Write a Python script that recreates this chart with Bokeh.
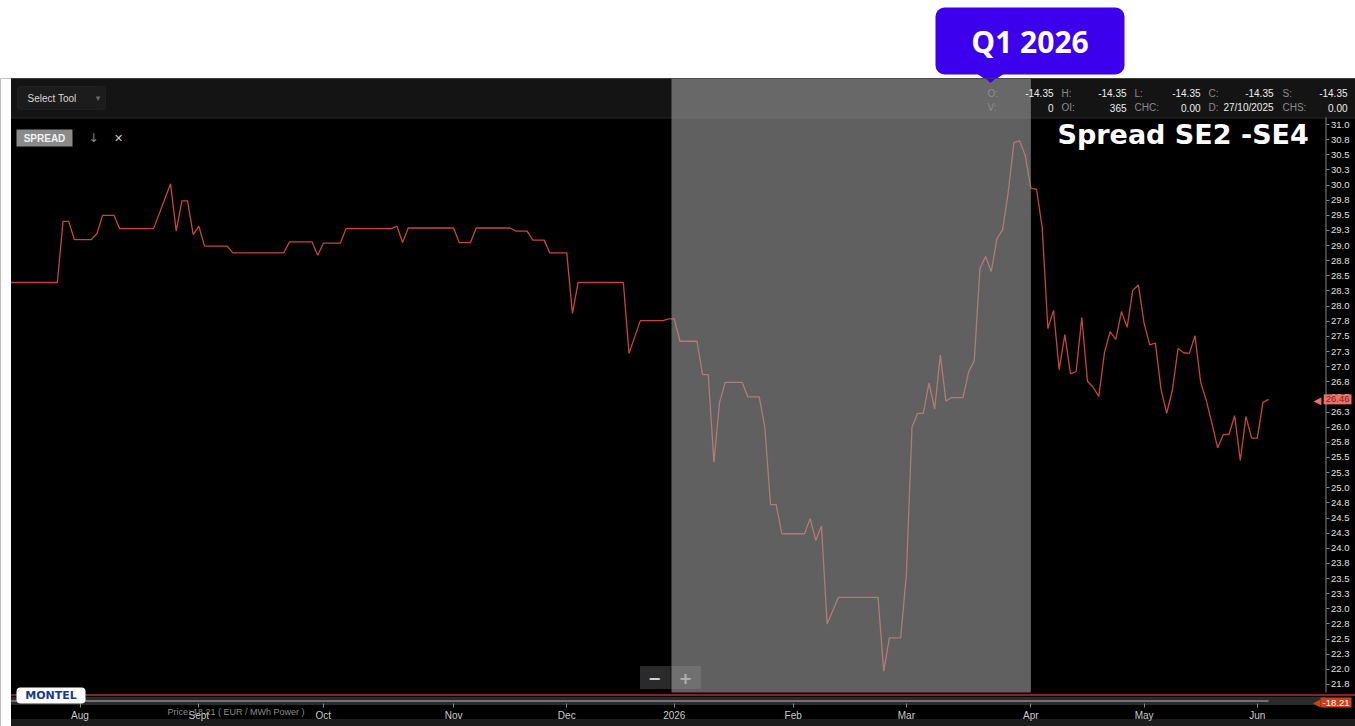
import numpy as np
import pandas as pd
from bokeh.plotting import figure
from bokeh.models import Range1d, FixedTicker, PrintfTickFormatter, Label, BoxAnnotation, ColumnDataSource
from bokeh.layouts import column
from bokeh.core.properties import value
from bokeh.embed import file_html
from bokeh.resources import INLINE

# ---------------- data ----------------
holidays = ["2025-12-24", "2025-12-25", "2025-12-26", "2025-12-31",
            "2026-01-01", "2026-04-03", "2026-04-06", "2026-05-01"]

dates = ["2025-07-15", "2025-07-28", "2025-07-29", "2025-07-30", "2025-07-31",
         "2025-08-05", "2025-08-06", "2025-08-07", "2025-08-11", "2025-08-12",
         "2025-08-20", "2025-08-25", "2025-08-26", "2025-08-27", "2025-08-28",
         "2025-08-29", "2025-09-01", "2025-09-02", "2025-09-08", "2025-09-09",
         "2025-09-22", "2025-09-23", "2025-09-29", "2025-09-30", "2025-10-01",
         "2025-10-06", "2025-10-07", "2025-10-17", "2025-10-20", "2025-10-21",
         "2025-10-22", "2025-11-03", "2025-11-04", "2025-11-06", "2025-11-07",
         "2025-11-17", "2025-11-18", "2025-11-20", "2025-11-21", "2025-11-25",
         "2025-11-26", "2025-12-01", "2025-12-02", "2025-12-03", "2025-12-15",
         "2025-12-16", "2025-12-18", "2025-12-29", "2025-12-30", "2026-01-02",
         "2026-01-05", "2026-01-08", "2026-01-09", "2026-01-12", "2026-01-13",
         "2026-01-14", "2026-01-15", "2026-01-20", "2026-01-21", "2026-01-23",
         "2026-01-26", "2026-01-27", "2026-01-28", "2026-01-29", "2026-02-04",
         "2026-02-05", "2026-02-06", "2026-02-09", "2026-02-10", "2026-02-12",
         "2026-02-23", "2026-02-24", "2026-02-25", "2026-02-27", "2026-03-02",
         "2026-03-03", "2026-03-04", "2026-03-05", "2026-03-06", "2026-03-09",
         "2026-03-10", "2026-03-11", "2026-03-12", "2026-03-16", "2026-03-17",
         "2026-03-18", "2026-03-19", "2026-03-20", "2026-03-23", "2026-03-24",
         "2026-03-25", "2026-03-26", "2026-03-27", "2026-03-30", "2026-03-31",
         "2026-04-01", "2026-04-02", "2026-04-07", "2026-04-08", "2026-04-09",
         "2026-04-10", "2026-04-13", "2026-04-14", "2026-04-15", "2026-04-16",
         "2026-04-17", "2026-04-20", "2026-04-21", "2026-04-22", "2026-04-23",
         "2026-04-24", "2026-04-27", "2026-04-28", "2026-04-29", "2026-04-30",
         "2026-05-04", "2026-05-05", "2026-05-06", "2026-05-07", "2026-05-08",
         "2026-05-11", "2026-05-12", "2026-05-13", "2026-05-14", "2026-05-15",
         "2026-05-18", "2026-05-19", "2026-05-20", "2026-05-21", "2026-05-22",
         "2026-05-25", "2026-05-26", "2026-05-27", "2026-05-28", "2026-05-29",
         "2026-06-01", "2026-06-02", "2026-06-03"]

spread = [28.39, 28.39, 29.40, 29.40, 29.10,
          29.10, 29.20, 29.50, 29.50, 29.28,
          29.28, 30.02, 29.24, 29.74, 29.74,
          29.18, 29.32, 28.99, 28.99, 28.88,
          28.88, 29.06, 29.06, 28.84, 29.04,
          29.04, 29.28, 29.28, 29.32, 29.05,
          29.29, 29.29, 29.05, 29.05, 29.29,
          29.29, 29.24, 29.24, 29.09, 29.09,
          28.88, 28.88, 27.88, 28.39, 28.39,
          27.22, 27.76, 27.76, 27.79, 27.79,
          27.42, 27.42, 26.87, 26.87, 25.42,
          26.41, 26.74, 26.74, 26.50, 26.50,
          26.00, 24.72, 24.72, 24.24, 24.24,
          24.49, 24.13, 24.37, 22.75, 23.19,
          23.19, 21.97, 22.52, 22.52, 23.56,
          26.00, 26.23, 26.23, 26.73, 26.30,
          27.19, 26.43, 26.49, 26.49, 26.91,
          27.10, 28.62, 28.82, 28.57, 29.11,
          29.26, 29.88, 30.70, 30.73, 30.49,
          29.95, 29.93, 29.30, 27.63, 27.93,
          26.95, 27.53, 26.88, 26.92, 27.81,
          26.76, 26.66, 26.51, 27.23, 27.58,
          27.45, 27.91, 27.65, 28.26, 28.35,
          27.72, 27.36, 27.39, 26.62, 26.23,
          26.61, 27.30, 27.23, 27.22, 27.51,
          26.74, 26.44, 26.06, 25.66, 25.88,
          25.88, 26.19, 25.45, 26.18, 25.82,
          25.82, 26.41, 26.46]

month_starts = ["2025-08-01", "2025-09-01", "2025-10-01", "2025-11-01", "2025-12-01",
                "2026-01-01", "2026-02-01", "2026-03-01", "2026-04-01", "2026-05-01",
                "2026-06-01"]
month_labels = ["Aug", "Sept", "Oct", "Nov", "Dec", "2026", "Feb", "Mar", "Apr", "May", "Jun"]

q1_start = "2026-01-01"
q1_end = "2026-04-01"
q1_label = "Q1 2026"
title_text = "Spread SE2 -SE4"

header_keys1 = ["O:", "H:", "L:", "C:", "S:"]
header_vals1 = ["-14.35", "-14.35", "-14.35", "-14.35", "-14.35"]
header_keys2 = ["V:", "OI:", "CHC:", "D:", "CHS:"]
header_vals2 = ["0", "365", "0.00", "27/10/2025", "0.00"]

last_value = 26.46
nav_value_text = "-18.21"
nav_caption = "Price: 18.21 ( EUR / MWh Power )"

# ---------------- trading-day calendar ----------------
cal = pd.bdate_range("2025-07-01", "2026-06-30", freq="C", holidays=holidays)
origin = int(cal.searchsorted(pd.Timestamp("2025-08-01")))


def tday(d):
    return int(cal.searchsorted(pd.Timestamp(d))) - origin


# page-pixel helpers for decorations (chart geometry)
A, B = 79.5, 5.66          # px of first Aug trading day, px per trading day
Y0, S = 124.0, 60.54        # px of 31.0, px per unit


def X(px):
    return (px - A) / B


def Y(py):
    return 31.0 - (py - Y0) / S


W, H = 1355, 726
TOP_H = 78
AXIS_X = 1325      # page x of the price axis
AXIS_Y = 704       # page y of the time axis

# ---------------- top strip (callout) ----------------
BLUE = "#3d00ec"
t = figure(width=W, height=TOP_H, x_range=Range1d(0, W), y_range=Range1d(0, TOP_H),
           toolbar_location=None, output_backend="svg", min_border=0,
           outline_line_color=None, background_fill_color="white", border_fill_color="white")
t.axis.visible = False
t.grid.visible = False
t.add_layout(BoxAnnotation(left=935, right=1124, top=TOP_H - 7, bottom=TOP_H - 74, fill_color=BLUE,
                           fill_alpha=1.0, line_color=None, border_radius=9))
t.patch([977, 1003, 990], [TOP_H - 73, TOP_H - 73, TOP_H - 82], color=BLUE)
t.add_layout(Label(x=1029.5, y=TOP_H - 41, text=q1_label, text_align="center", text_baseline="middle",
                   text_font="Open Sans", text_font_style="bold", text_font_size="30px",
                   text_color="white"))

# ---------------- main chart ----------------
p = figure(width=W, height=H - TOP_H,
           x_range=Range1d(X(0), X(W)), y_range=Range1d(Y(H), Y(TOP_H)),
           y_axis_location="right", toolbar_location=None, output_backend="svg",
           min_border=0, background_fill_color="black", border_fill_color="black",
           outline_line_color=None)
p.grid.visible = False

# header bar
p.quad(left=[X(10)], right=[X(1400)], top=[Y(78)], bottom=[Y(117)], color="#141414")
p.segment(x0=[X(10)], x1=[X(1400)], y0=[Y(117.5)], y1=[Y(117.5)], color="#262626", line_width=1)

# bottom band
p.quad(left=[X(10)], right=[X(1400)], top=[Y(719)], bottom=[Y(740)], color="#1c1c1c")

# y axis line (body only)
p.segment(x0=[X(AXIS_X + 0.5)], x1=[X(AXIS_X + 0.5)], y0=[Y(117)], y1=[Y(692)],
          color="#8a8a8a", line_width=1)

# navigator strip
p.quad(left=[X(10)], right=[X(AXIS_X)], top=[Y(697)], bottom=[Y(AXIS_Y)], color="#2a2a2a")
p.segment(x0=[X(10)], x1=[X(1400)], y0=[Y(694.5)], y1=[Y(694.5)], color="#a83232", line_width=1.5)
p.segment(x0=[X(10)], x1=[X(1268)], y0=[Y(700.5)], y1=[Y(700.5)], color="#8a8a8a", line_width=1.5)

# zoom control
p.quad(left=[X(640)], right=[X(700)], top=[Y(666)], bottom=[Y(688)], color="#2a2a2a")
p.segment(x0=[X(670.5)], x1=[X(670.5)], y0=[Y(666)], y1=[Y(688)], color="#111111")
p.text(x=[X(654), X(685)], y=[Y(677), Y(677)], text=["\u2212", "+"], text_align="center",
       text_baseline="middle", text_font=value("DejaVu Sans"), text_font_style="bold",
       text_font_size="16px", text_color="#cfcfcf")

# series
src = ColumnDataSource(dict(x=[tday(d) for d in dates], y=spread))
p.line("x", "y", source=src, color="#c4463f", line_width=1.3)

# Q1 overlay
p.quad(left=[tday(q1_start) - 0.5], right=[tday(q1_end)], top=[Y(78)], bottom=[Y(692)],
       fill_color="#a0a0a0", fill_alpha=0.6, line_color=None)

# callout pointer continuing into the header
p.patch([X(977), X(1003), X(990)], [Y(70), Y(70), Y(82)], color=BLUE)

# white page margin left of the chart (on top of the series start)
p.quad(left=[X(-20)], right=[X(10)], top=[Y(60)], bottom=[Y(740)], color="white")

# axes (drawn at fixed positions inside the canvas)
p.yaxis.fixed_location = X(AXIS_X + 0.5)
p.yaxis.ticker = FixedTicker(ticks=list(np.arange(21.75, 31.0001, 0.25)))
p.yaxis.formatter = PrintfTickFormatter(format="%.1f")
p.yaxis.axis_line_color = None
p.yaxis.major_tick_line_color = "#8a8a8a"
p.yaxis.major_tick_out = 3
p.yaxis.major_tick_in = 0
p.yaxis.minor_tick_line_color = None
p.yaxis.major_label_standoff = 2
p.yaxis.major_label_text_font = "Liberation Sans"
p.yaxis.major_label_text_font_size = "9.5px"
p.yaxis.major_label_text_color = "#e0e0e0"

month_idx = [tday(m) for m in month_starts]
p.xaxis.fixed_location = Y(AXIS_Y)
p.xaxis.ticker = FixedTicker(ticks=month_idx)
p.xaxis.major_label_overrides = {i: lab for i, lab in zip(month_idx, month_labels)}
p.xaxis.axis_line_color = None
p.xaxis.major_tick_line_color = "#8a8a8a"
p.xaxis.major_tick_in = 1
p.xaxis.major_tick_out = 3
p.xaxis.minor_tick_line_color = None
p.xaxis.major_label_standoff = 2
p.xaxis.major_label_text_font = "Liberation Sans"
p.xaxis.major_label_text_font_size = "10px"
p.xaxis.major_label_text_color = "#cccccc"


def lab(px, py, text, size="10px", color="#dddddd", align="left", font="Liberation Sans",
        style="normal", **kw):
    p.add_layout(Label(x=X(px), y=Y(py), text=text, text_font=font, text_font_size=size,
                       text_color=color, text_align=align, text_baseline="middle",
                       text_font_style=style, **kw))


# header widgets
p.add_layout(BoxAnnotation(left=X(17), right=X(105), top=Y(86), bottom=Y(109),
                           fill_color="#1c1c1c", fill_alpha=1.0, line_color="#363636",
                           border_radius=3))
p.segment(x0=[X(90.5)], x1=[X(90.5)], y0=[Y(88)], y1=[Y(107)], color="#363636")
lab(27, 97.5, "Select Tool", color="#d8d8d8")
lab(97.5, 97, "\u25be", size="9px", color="#6a6a6a", align="center", font="DejaVu Sans")

key_x = [987, 1061, 1134, 1208, 1282]
val_x = [1053, 1126, 1200, 1273, 1347]
for kx, vx, k1, v1, k2, v2 in zip(key_x, val_x, header_keys1, header_vals1, header_keys2, header_vals2):
    lab(kx, 92.5, k1, color="#8c8c8c")
    lab(kx, 107, k2, color="#8c8c8c")
    lab(vx, 92.5, v1, color="#eeeeee", align="right")
    lab(vx, 107, v2, color="#eeeeee", align="right")

# SPREAD button
p.add_layout(BoxAnnotation(left=X(16), right=X(72), top=Y(129), bottom=Y(146),
                           fill_color="#8a8a8a", fill_alpha=1.0, line_color=None))
lab(44, 138, "SPREAD", size="10px", color="#f2f2f2", align="center", style="bold")
lab(93, 137.5, "\u2193", size="12px", color="#8f8f8f", align="center", font="DejaVu Sans")
lab(118, 137.5, "\u2715", size="11px", color="#d0d0d0", align="center", font="DejaVu Sans")

# title
p.add_layout(Label(x=X(1057), y=Y(134), text=title_text, text_font="DejaVu Sans",
                   text_font_style="bold", text_font_size="27px", text_color="white",
                   text_align="left", text_baseline="alphabetic"))

# Montel logo
p.add_layout(BoxAnnotation(left=X(16), right=X(85), top=Y(687), bottom=Y(703),
                           fill_color="white", fill_alpha=1.0, line_color=None, border_radius=4))
lab(50.5, 695, "MONTEL", size="11px", color="#1b3a86", align="center", style="bold",
    font="DejaVu Sans")

# navigator caption
lab(167, 711, nav_caption, size="9px", color="#8a8a8a")

# right-axis value tags (right-aligned so they stay inside the page)
TAG = "#e8736b"
lab(1313, 399.5, "\u25c0", size="10px", color=TAG, font="DejaVu Sans")
p.add_layout(Label(x=X(1351), y=last_value, text=f"{last_value:.2f}", text_font="Liberation Sans",
                   text_font_size="9.5px", text_color="#8a1818", text_align="right",
                   text_baseline="middle", background_fill_color=TAG, padding=2))
ORG = "#c8421c"
lab(1312, 702, "\u25c0", size="10px", color=ORG, font="DejaVu Sans")
p.add_layout(Label(x=X(1351), y=Y(702), text=nav_value_text, text_font="Liberation Sans",
                   text_font_size="9.5px", text_color="white", text_align="right",
                   text_baseline="middle", background_fill_color=ORG, padding=2))

layout = column(t, p, spacing=0)
open("out.html", "w").write(file_html(layout, INLINE))
